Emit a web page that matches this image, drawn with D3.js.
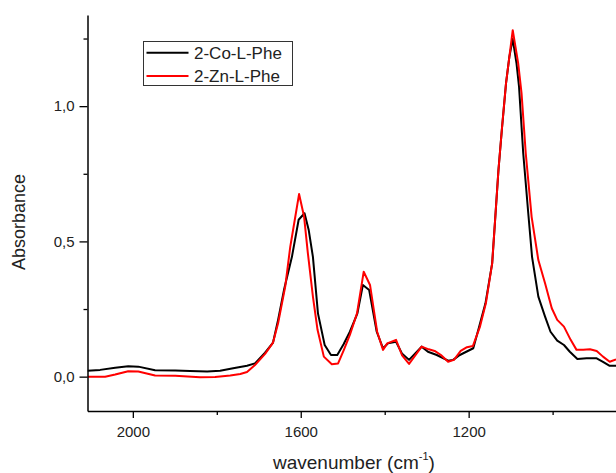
<!DOCTYPE html>
<html>
<head>
<meta charset="utf-8">
<script src="https://cdn.jsdelivr.net/npm/d3@7"></script>
<style>
  body { margin: 0; background: #fff; }
  svg { display: block; font-family: "Liberation Sans", Arial, sans-serif; }
</style>
</head>
<body>
<svg width="616" height="473"></svg>
<script>
// spectra (wavenumber in cm-1, absorbance)
const waveCo = [2108, 2078, 2042, 2011, 1987, 1947, 1899, 1864, 1823, 1792, 1761, 1728, 1709, 1685, 1666, 1654, 1640, 1621, 1605, 1591, 1581, 1571, 1559, 1543, 1528, 1513, 1498, 1483, 1465, 1452, 1437, 1419, 1404, 1392, 1373, 1359, 1342, 1312, 1297, 1276, 1249, 1237, 1221, 1189, 1176, 1160, 1144, 1137, 1129, 1121, 1111, 1103, 1095, 1086, 1080, 1070, 1058, 1049, 1034, 1018, 1005, 989, 973, 959, 941, 919, 895, 880, 864, 849];
const absCo  = [0.022, 0.025, 0.033, 0.038, 0.037, 0.024, 0.023, 0.021, 0.019, 0.022, 0.031, 0.040, 0.049, 0.089, 0.126, 0.210, 0.320, 0.443, 0.580, 0.604, 0.542, 0.443, 0.234, 0.117, 0.080, 0.080, 0.120, 0.166, 0.234, 0.339, 0.320, 0.166, 0.105, 0.123, 0.129, 0.086, 0.062, 0.111, 0.092, 0.080, 0.059, 0.062, 0.080, 0.105, 0.179, 0.271, 0.419, 0.579, 0.764, 0.912, 1.084, 1.183, 1.248, 1.158, 1.072, 0.826, 0.604, 0.443, 0.296, 0.222, 0.166, 0.133, 0.117, 0.092, 0.065, 0.068, 0.068, 0.055, 0.040, 0.040];

const waveZn = [2108, 2066, 2042, 2011, 1987, 1947, 1899, 1840, 1804, 1768, 1744, 1728, 1709, 1685, 1666, 1654, 1637, 1625, 1613, 1604, 1592, 1583, 1571, 1560, 1545, 1526, 1511, 1497, 1483, 1466, 1450, 1435, 1418, 1404, 1394, 1373, 1359, 1342, 1312, 1295, 1281, 1266, 1249, 1235, 1219, 1204, 1190, 1173, 1159, 1144, 1137, 1129, 1121, 1111, 1103, 1095, 1082, 1074, 1064, 1050, 1034, 1018, 1002, 989, 973, 957, 943, 927, 911, 895, 880, 864, 849];
const absZn  = [0.000, 0.000, 0.008, 0.020, 0.019, 0.004, 0.003, -0.002, -0.001, 0.004, 0.010, 0.017, 0.043, 0.084, 0.126, 0.197, 0.333, 0.480, 0.591, 0.675, 0.591, 0.456, 0.296, 0.173, 0.074, 0.046, 0.049, 0.100, 0.154, 0.234, 0.388, 0.339, 0.166, 0.099, 0.123, 0.136, 0.080, 0.047, 0.111, 0.101, 0.095, 0.080, 0.055, 0.062, 0.095, 0.109, 0.113, 0.185, 0.271, 0.419, 0.579, 0.764, 0.912, 1.084, 1.183, 1.281, 1.158, 1.047, 0.826, 0.591, 0.431, 0.345, 0.253, 0.210, 0.185, 0.136, 0.099, 0.099, 0.101, 0.095, 0.074, 0.055, 0.064];

const seriesNames = ["2-Co-L-Phe", "2-Zn-L-Phe"];
const seriesColors = ["#000000", "#ff0000"];
const xMajor = [2000, 1600, 1200];
const xMinor = [1800, 1400, 1000];
const yMajor = [0, 0.5, 1.0];
const yMinor = [0.25, 0.75, 1.25];

const svg = d3.select("svg");
const margin = {left: 87.5, top: 15, bottom: 411, right: 616}; // pixel edges of the plot box

const x = d3.scaleLinear().domain([2108, 849]).range([margin.left, margin.right]);
const y = d3.scaleLinear().domain([-0.127, 1.337]).range([margin.bottom, margin.top]);

svg.append("clipPath").attr("id", "plot")
  .append("rect").attr("x", margin.left).attr("y", 0)
  .attr("width", margin.right - margin.left).attr("height", margin.bottom);

const line = d3.line().x(d => x(d[0])).y(d => y(d[1]));
const series = [d3.zip(waveCo, absCo), d3.zip(waveZn, absZn)];
svg.append("g").attr("clip-path", "url(#plot)")
  .selectAll("path").data(series).enter().append("path")
  .attr("d", line)
  .attr("fill", "none")
  .attr("stroke", (d, i) => seriesColors[i])
  .attr("stroke-width", 2)
  .attr("stroke-linejoin", "round");

const fmt = d => d3.format(".1f")(d).replace(".", ",");

// minor ticks first, then major axes with labels
svg.append("g").attr("transform", "translate(0," + margin.bottom + ")")
  .call(d3.axisBottom(x).tickValues(xMinor).tickSize(4).tickFormat(""))
  .call(g => g.select(".domain").remove());
svg.append("g").attr("transform", "translate(" + margin.left + ",0)")
  .call(d3.axisLeft(y).tickValues(yMinor).tickSize(4).tickFormat(""))
  .call(g => g.select(".domain").remove());

svg.append("g").attr("transform", "translate(0," + margin.bottom + ")")
  .call(d3.axisBottom(x).tickValues(xMajor).tickSize(7).tickPadding(8).tickSizeOuter(0).tickFormat(d3.format("d")));
svg.append("g").attr("transform", "translate(" + margin.left + ",0)")
  .call(d3.axisLeft(y).tickValues(yMajor).tickSize(8).tickPadding(5).tickSizeOuter(0).tickFormat(fmt));

svg.selectAll(".tick line").attr("stroke", "#000").attr("stroke-width", 1.3);
svg.selectAll(".domain").attr("stroke", "#000").attr("stroke-width", 1.5);
svg.selectAll(".tick text").attr("font-size", 15).attr("fill", "#222")
  .attr("font-family", "Liberation Sans, Arial, sans-serif");

// axis titles
const xt = svg.append("text").attr("x", 273).attr("y", 468.5)
  .attr("font-size", 19).attr("fill", "#222");
xt.append("tspan").text("wavenumber (cm");
xt.append("tspan").attr("font-size", 11).attr("dy", -9).text("-1");
xt.append("tspan").attr("dy", 9).text(")");

svg.append("text").attr("transform", "translate(25,222) rotate(-90)")
  .attr("text-anchor", "middle").attr("font-size", 18).attr("fill", "#222")
  .text("Absorbance");

// legend
const legend = svg.append("g");
legend.append("rect").attr("x", 143.5).attr("y", 41.5).attr("width", 149).attr("height", 44)
  .attr("fill", "#fff").attr("stroke", "#333").attr("stroke-width", 1);
seriesNames.forEach((name, i) => {
  const ly = 52.7 + i * 23.3;
  legend.append("line").attr("x1", 146.5).attr("x2", 188.5).attr("y1", ly).attr("y2", ly)
    .attr("stroke", seriesColors[i]).attr("stroke-width", 2);
  legend.append("text").attr("x", 194).attr("y", ly + 6.3)
    .attr("font-size", 17).attr("fill", "#222").text(name);
});
</script>
</body>
</html>
